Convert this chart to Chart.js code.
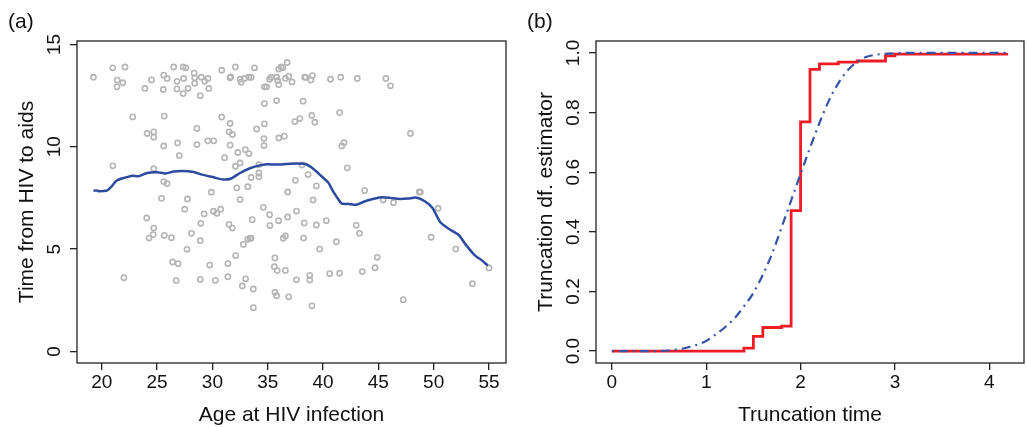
<!DOCTYPE html>
<html><head><meta charset="utf-8">
<script src="https://cdn.jsdelivr.net/npm/chart.js@4/dist/chart.umd.min.js"></script>
<style>
html,body{margin:0;padding:0;background:#fff;width:1027px;height:427px;overflow:hidden}
#ca{position:absolute;left:0;top:0}
#cb{position:absolute;left:520px;top:0}
.lab{position:absolute;font-family:"Liberation Sans",Arial,sans-serif;font-size:21px;line-height:21px;color:#111;white-space:nowrap}
</style></head><body>
<canvas id="ca" width="520" height="427"></canvas>
<canvas id="cb" width="507" height="427"></canvas>
<div class="lab" style="left:8px;top:10px">(a)</div>
<div class="lab" style="left:527px;top:10px">(b)</div>
<script>
// ---------- Panel (a) data ----------
const ageA = [19.25,20.99,21.4,21.38,21.9,22.1,23.9,24.5,25.6,25.9,25.56,26.5,26.8,26.8,27.4,27.36,27.6,27.36,27.8,28.35,28.4,28.4,28.9,29.0,29.3,29.6,29.67,30.84,31.6,31.65,32.08,32.5,32.6,32.9,33.3,33.5,33.8,34.7,34.9,35.17,35.3,35.8,35.9,36.0,36.0,36.2,36.37,36.76,36.6,36.9,37.2,38.35,38.45,38.9,39.05,40.67,41.6,43.1,45.68,46.1,35.8,38.2,34.7,41.5,22.8,25.65,30.84,38.99,39.26,37.45,37.9,34.7,31.6,28.6,34.0,24.1,24.7,24.7,31.5,31.8,36.0,36.5,34.66,34.66,25.6,26.85,28.6,29.58,30.12,31.6,41.69,41.9,47.9,32.98,33.3,32.3,27.0,31.1,21.0,24.7,32.08,32.5,34.2,38.1,42.2,34.2,34.2,33.5,38.65,25.6,25.9,37.5,32.2,33.2,39.4,36.8,29.9,43.76,48.7,48.8,25.4,27.75,32.5,39.1,45.44,46.37,50.4,27.5,34.6,37.6,30.1,30.4,30.75,29.25,35.17,36.8,24.06,33.6,35.98,40.3,28.95,31.5,31.8,38.3,35.2,39.4,43.0,24.7,24.65,24.27,25.65,26.3,28.1,43.3,38.25,36.6,36.4,33.2,33.4,33.5,28.9,49.77,41.2,32.8,27.7,39.7,52.0,32.1,35.65,44.9,26.4,26.9,29.76,31.4,35.6,44.7,35.86,36.6,43.55,40.6,41.5,55.0,22.0,31.4,33.0,28.9,37.6,38.8,38.8,26.73,30.27,32.7,33.7,53.5,35.65,35.8,36.9,47.25,33.7,39.0];
const timeA = [13.4,13.86,13.26,12.93,13.13,13.9,12.85,13.27,13.5,13.34,12.8,13.9,13.2,12.83,13.34,13.9,13.86,12.6,12.85,13.6,13.37,13.1,12.5,13.4,13.2,13.34,12.85,13.74,13.37,13.42,13.9,13.3,13.16,13.34,13.4,13.39,13.86,12.93,12.93,13.3,13.4,13.4,13.23,13.04,13.8,13.9,13.86,14.12,13.34,13.44,13.17,13.4,13.39,13.26,13.48,13.3,13.4,13.34,13.34,12.98,12.26,12.23,12.11,11.67,11.46,11.5,11.45,11.53,11.2,11.23,11.38,11.12,11.14,10.9,10.87,10.65,10.73,10.47,10.73,10.6,10.43,10.52,10.4,10.06,10.04,10.19,10.11,10.29,10.29,10.08,10.04,10.2,10.65,9.86,9.67,9.72,9.57,9.47,9.07,8.93,9.05,9.21,9.13,9.11,8.97,8.72,8.53,8.5,8.64,8.3,8.2,8.36,7.99,8.05,8.09,7.79,7.78,7.86,7.79,7.78,7.48,7.45,7.42,7.4,7.4,7.27,7.0,6.95,7.04,6.86,6.85,6.75,6.95,6.72,6.68,6.57,6.52,6.44,6.39,6.39,6.26,6.21,6.03,6.28,6.15,6.18,6.16,6.03,5.71,5.54,5.67,5.56,5.77,5.77,5.54,5.64,5.53,5.48,5.53,5.53,5.41,5.58,5.36,5.23,4.99,5.0,5.0,4.68,4.57,4.6,4.37,4.29,4.22,4.29,4.14,4.09,3.95,3.96,3.9,3.8,3.82,4.08,3.6,3.65,3.55,3.52,3.5,3.72,3.49,3.46,3.47,3.2,3.05,3.31,2.89,2.72,2.67,2.53,2.14,2.23];
const smoothAge  = [19.25,19.5,19.76,20.5,20.9,21.35,22.0,22.77,23.3,24.1,25.0,25.77,26.5,27.27,28.3,29.07,30.1,31.0,31.7,32.5,33.4,34.2,34.9,35.8,36.7,37.6,38.4,39.0,39.7,40.5,40.9,41.3,41.7,42.3,43.0,43.8,44.7,45.4,46.1,46.9,47.7,48.4,49.2,49.9,50.6,51.4,52.25,52.9,53.7,54.35,54.9];
const smoothTime = [7.85,7.87,7.83,7.87,8.07,8.35,8.48,8.59,8.56,8.72,8.75,8.7,8.79,8.82,8.77,8.64,8.51,8.4,8.45,8.72,8.95,9.08,9.15,9.13,9.16,9.18,9.16,8.97,8.64,8.23,7.83,7.5,7.22,7.21,7.17,7.34,7.47,7.53,7.5,7.45,7.47,7.52,7.34,7.01,6.31,5.98,5.7,5.22,4.71,4.45,4.2];
const xTicksA = [20,25,30,35,40,45,50,55];
const yTicksA = [0,5,10,15];

// ---------- Panel (b) data ----------
const stepTime  = [0,1.4,1.5,1.6,1.8,1.9,2.0,2.1,2.2,2.4,2.6,2.9,3.0,4.2];
const stepValue = [0,0.01,0.049,0.079,0.084,0.471,0.769,0.945,0.963,0.969,0.973,0.990,0.996,0.996];
const curveTime  = [0,0.2,0.4,0.6,0.8,1.0,1.1,1.2,1.3,1.4,1.5,1.6,1.7,1.8,1.9,2.0,2.1,2.2,2.3,2.4,2.5,2.6,2.7,2.8,3.0,3.2,3.6,4.2];
const curveValue = [0,0,0,0.002,0.012,0.034,0.056,0.08,0.11,0.15,0.195,0.256,0.328,0.416,0.505,0.594,0.682,0.765,0.84,0.898,0.942,0.97,0.987,0.994,0.999,1,1,1];
const xTicksB = [0,1,2,3,4];
const yTicksB = [0,0.2,0.4,0.6,0.8,1.0];

Chart.defaults.font.family = '"Liberation Sans", Arial, sans-serif';
Chart.defaults.color = '#111';
Chart.defaults.animation = false;

const boxPlugin = {
  id: 'box',
  afterDatasetsDraw(chart) {
    const {ctx, chartArea: a} = chart;
    ctx.save();
    ctx.strokeStyle = '#222';
    ctx.lineWidth = 1.3;
    ctx.strokeRect(a.left, a.top, a.right - a.left, a.bottom - a.top);
    ctx.restore();
  }
};

const zip = (xs, ys) => xs.map((x, i) => ({x, y: ys[i]}));
const gridCfg = {drawOnChartArea: false, drawTicks: true, tickLength: 7, color: '#222', lineWidth: 1.3};

function xScale(min, max, ticks, title, fmt) {
  return {
    type: 'linear', min, max,
    afterBuildTicks: s => { s.ticks = ticks.map(v => ({value: v})); },
    afterFit: s => { s.height = 64; },
    grid: gridCfg, border: {display: false},
    ticks: {font: {size: 19}, padding: 1, maxRotation: 0, autoSkip: false, callback: fmt},
    title: {display: true, text: title, font: {size: 21, lineHeight: 1}, padding: {top: 0, bottom: 1}}
  };
}
function yScale(min, max, ticks, title, width, pad, tpad, fmt) {
  return {
    type: 'linear', min, max,
    afterBuildTicks: s => { s.ticks = ticks.map(v => ({value: v})); },
    afterFit: s => { s.width = width; },
    grid: gridCfg, border: {display: false},
    ticks: {font: {size: 19}, padding: pad, minRotation: 90, maxRotation: 90, crossAlign: 'center', autoSkip: false, callback: fmt},
    title: {display: true, text: title, font: {size: 21, lineHeight: 1}, padding: {top: tpad, bottom: 0}}
  };
}

new Chart(document.getElementById('ca'), {
  type: 'scatter',
  data: {
    datasets: [
      {data: zip(smoothAge, smoothTime), showLine: true, borderColor: '#2d4b9e', borderWidth: 2.5, pointRadius: 0, tension: 0.2},
      {data: zip(ageA, timeA), pointRadius: 2.6, pointBorderWidth: 1.6, pointBorderColor: '#b5b5b5', pointBackgroundColor: 'rgba(0,0,0,0)'}
    ]
  },
  options: {
    responsive: false,
    layout: {padding: {top: 41, right: 14, left: 0, bottom: 0}},
    plugins: {legend: {display: false}, tooltip: {enabled: false}},
    scales: {
      x: xScale(17.76, 56.54, xTicksA, 'Age at HIV infection', v => String(v)),
      y: yScale(-0.566, 15.17, yTicksA, 'Time from HIV to aids', 77, 5, 17, v => String(v))
    }
  },
  plugins: [boxPlugin]
});

new Chart(document.getElementById('cb'), {
  type: 'scatter',
  data: {
    datasets: [
      {data: zip(curveTime, curveValue), showLine: true, borderColor: '#3553a6', borderWidth: 2.2, borderDash: [2, 5, 9, 5], pointRadius: 0, cubicInterpolationMode: 'monotone'},
      {data: zip(stepTime, stepValue), showLine: true, stepped: 'before', borderColor: '#ee1c24', borderWidth: 2.8, pointRadius: 0}
    ]
  },
  options: {
    responsive: false,
    layout: {padding: {top: 41, right: 3, left: 0, bottom: 0}},
    plugins: {legend: {display: false}, tooltip: {enabled: false}},
    scales: {
      x: xScale(-0.168, 4.368, xTicksB, 'Truncation time', v => String(v)),
      y: yScale(-0.04, 1.04, yTicksB, 'Truncation df. estimator', 76, 2, 16, v => v.toFixed(1))
    }
  },
  plugins: [boxPlugin]
});
</script>
</body></html>
